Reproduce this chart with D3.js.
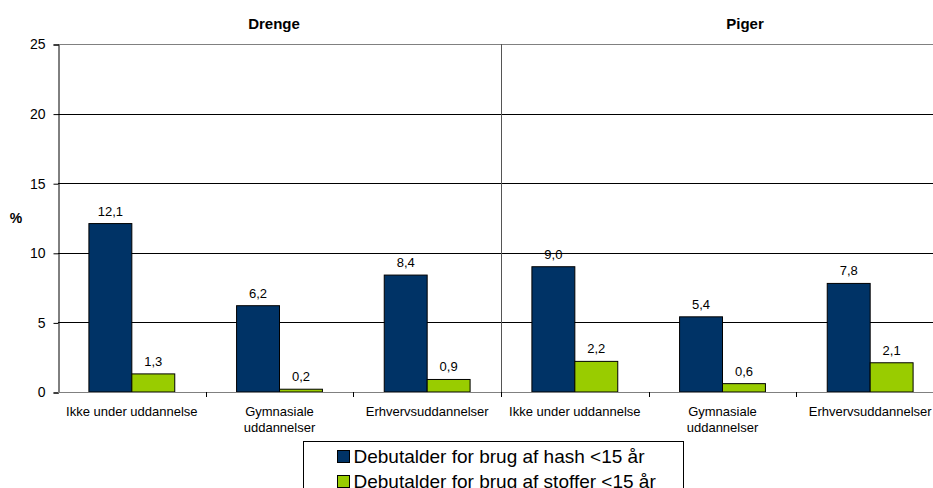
<!DOCTYPE html>
<html>
<head>
<meta charset="utf-8">
<script src="https://cdn.jsdelivr.net/npm/d3@7"></script>
<style>
  body { margin: 0; background: #fff; }
  text { font-family: "Liberation Sans", Arial, sans-serif; }
</style>
</head>
<body>
<div id="chart"></div>
<script>
var w = 933;
var h = 488;

var groups = ["Drenge", "Piger"];
var categories = ["Ikke under uddannelse", "Gymnasiale uddannelser", "Erhvervsuddannelser"];
var seriesNames = ["Debutalder for brug af hash <15 år", "Debutalder for brug af stoffer <15 år"];
var hashValues = [12.1, 6.2, 8.4, 9.0, 5.4, 7.8];
var stofferValues = [1.3, 0.2, 0.9, 2.2, 0.6, 2.1];
var yTicks = [0, 5, 10, 15, 20, 25];
var colors = ["#003366", "#99cc00"];

var plotLeft = 58, plotRight = 944, plotTop = 44, plotBottom = 392;

// one slot per group/category pair
var slots = [];
groups.forEach(function(g, gi) {
	categories.forEach(function(c, ci) {
		slots.push({ group: g, cat: c, idx: gi * 3 + ci });
	});
});

var xScale = d3.scaleBand()
	.domain(slots.map(function(d) { return d.idx; }))
	.range([plotLeft, plotRight]);

var xInner = d3.scaleBand()
	.domain([0, 1])
	.range([0, xScale.bandwidth()])
	.paddingOuter(0.72)
	.paddingInner(0);

var yScale = d3.scaleLinear()
	.domain([0, 25])
	.range([plotBottom, plotTop]);

var svg = d3.select("#chart")
	.append("svg")
	.attr("width", w)
	.attr("height", h);

// gridlines
svg.selectAll("line.grid")
	.data(yTicks.filter(function(t) { return t > 0; }))
	.enter()
	.append("line")
	.attr("class", "grid")
	.attr("x1", plotLeft)
	.attr("x2", plotRight)
	.attr("y1", function(d) { return Math.round(yScale(d)) + 0.5; })
	.attr("y2", function(d) { return Math.round(yScale(d)) + 0.5; })
	.attr("stroke", function(d) { return d === 25 ? "#808080" : "#000"; })
	.attr("stroke-width", 1);

// y axis
var yAxis = d3.axisLeft(yScale)
	.tickValues(yTicks)
	.tickSize(5)
	.tickFormat(function(d) { return d; });

var gy = svg.append("g")
	.attr("transform", "translate(" + (plotLeft + 0.5) + ",0.5)")
	.call(yAxis);
gy.select(".domain").attr("stroke", "#000");
gy.selectAll(".tick line").attr("stroke", "#000");
gy.selectAll(".tick text")
	.attr("font-size", "14px")
	.attr("fill", "#000")
	.attr("x", -13);

svg.append("text")
	.attr("x", 16)
	.attr("y", 223)
	.attr("text-anchor", "middle")
	.attr("font-size", "14px")
	.attr("font-weight", "bold")
	.text("%");

// divider between groups
svg.append("line")
	.attr("x1", Math.round(xScale(3)) + 0.5)
	.attr("x2", Math.round(xScale(3)) + 0.5)
	.attr("y1", plotTop)
	.attr("y2", plotBottom + 5)
	.attr("stroke", "#555");

// bars
var series = [hashValues, stofferValues];
series.forEach(function(vals, si) {
	svg.selectAll("rect.s" + si)
		.data(slots)
		.enter()
		.append("rect")
		.attr("class", "s" + si)
		.attr("x", function(d) { return xScale(d.idx) + xInner(si); })
		.attr("y", function(d) { return yScale(vals[d.idx]); })
		.attr("width", xInner.bandwidth())
		.attr("height", function(d) { return plotBottom - yScale(vals[d.idx]); })
		.attr("fill", colors[si])
		.attr("stroke", "#000")
		.attr("stroke-width", 1);

	svg.selectAll("text.v" + si)
		.data(slots)
		.enter()
		.append("text")
		.attr("class", "v" + si)
		.attr("x", function(d) { return xScale(d.idx) + xInner(si) + xInner.bandwidth() / 2; })
		.attr("y", function(d) { return yScale(vals[d.idx]) - 8; })
		.attr("text-anchor", "middle")
		.attr("font-size", "13px")
		.text(function(d) { return vals[d.idx].toFixed(1).replace(".", ","); });
});

// x axis baseline
svg.append("line")
	.attr("x1", plotLeft)
	.attr("x2", plotRight)
	.attr("y1", plotBottom + 0.5)
	.attr("y2", plotBottom + 0.5)
	.attr("stroke", "#808080");

svg.selectAll("line.xtick")
	.data(d3.range(1, 6))
	.enter()
	.append("line")
	.attr("class", "xtick")
	.attr("x1", function(d) { return Math.round(xScale(d)) + 0.5; })
	.attr("x2", function(d) { return Math.round(xScale(d)) + 0.5; })
	.attr("y1", plotBottom)
	.attr("y2", plotBottom + 5)
	.attr("stroke", "#000");

// category labels
var xl = svg.selectAll("text.xl")
	.data(slots)
	.enter()
	.append("text")
	.attr("class", "xl")
	.attr("text-anchor", "middle")
	.attr("font-size", "13px")
	.attr("y", 416);

xl.each(function(d) {
	var t = d3.select(this);
	var cx = xScale(d.idx) + xScale.bandwidth() / 2;
	var parts = d.cat === "Gymnasiale uddannelser" ? ["Gymnasiale", "uddannelser"] : [d.cat];
	parts.forEach(function(p, i) {
		t.append("tspan")
			.attr("x", cx)
			.attr("dy", i === 0 ? 0 : 16)
			.text(p);
	});
});

// group titles
var titleX = [274, 745];
svg.selectAll("text.gt")
	.data(groups)
	.enter()
	.append("text")
	.attr("class", "gt")
	.attr("x", function(d, i) { return titleX[i]; })
	.attr("y", 29)
	.attr("text-anchor", "middle")
	.attr("font-size", "15px")
	.attr("font-weight", "bold")
	.text(function(d) { return d; });

// legend
var legend = svg.append("g");
legend.append("rect")
	.attr("x", 303.5)
	.attr("y", 441.5)
	.attr("width", 380)
	.attr("height", 70)
	.attr("fill", "#fff")
	.attr("stroke", "#000");

var li = legend.selectAll("g.li")
	.data(seriesNames)
	.enter()
	.append("g")
	.attr("class", "li")
	.attr("transform", function(d, i) { return "translate(337.5," + (450.5 + i * 25) + ")"; });

li.append("rect")
	.attr("width", 12)
	.attr("height", 12)
	.attr("fill", function(d, i) { return colors[i]; })
	.attr("stroke", "#000");

li.append("text")
	.attr("x", 16)
	.attr("y", 12.5)
	.attr("font-size", "19px")
	.text(function(d) { return d; });
</script>
</body>
</html>
